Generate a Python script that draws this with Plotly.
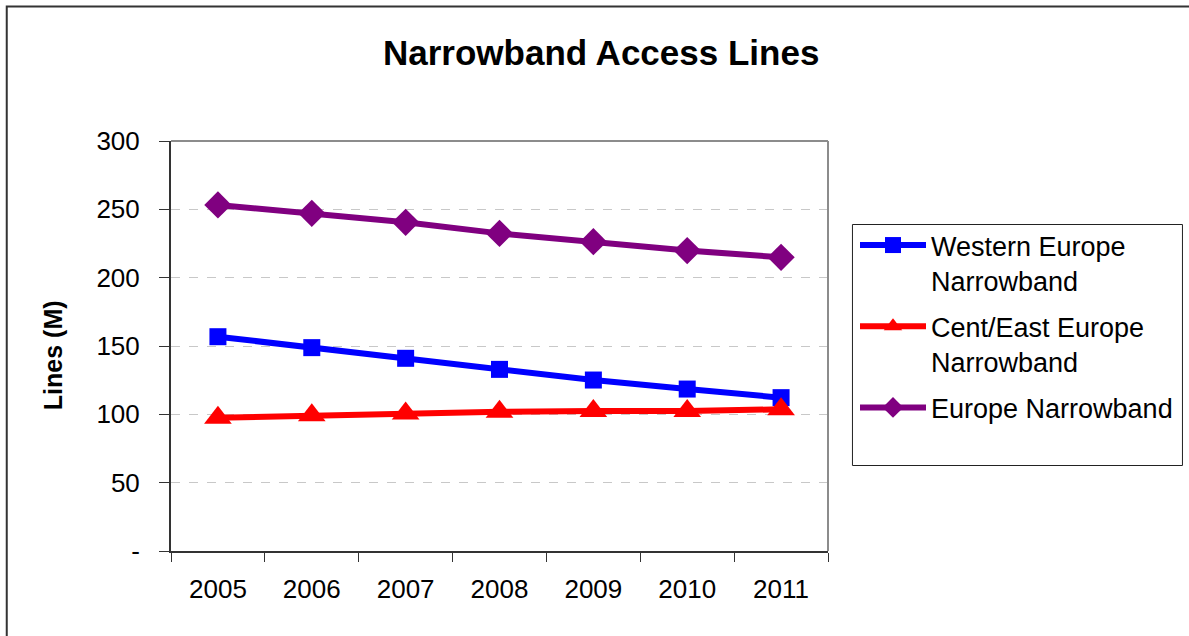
import plotly.graph_objects as go

# Narrowband access lines by region, millions
years = ["2005", "2006", "2007", "2008", "2009", "2010", "2011"]
western_europe = [156.8, 148.8, 141.0, 132.9, 125.1, 118.5, 112.2]
cent_east_europe = [97.5, 99.3, 100.7, 101.9, 102.4, 102.4, 103.7]
europe_total = [253.2, 247.1, 240.5, 232.4, 226.3, 219.8, 214.9]

y_tick_vals = [0, 50, 100, 150, 200, 250, 300]
y_tick_text = ["-", "50", "100", "150", "200", "250", "300"]

FONT = "Liberation Sans, Arial, sans-serif"
W, H = 1189, 636
L, R, T, B = 171, 360, 141, 85
pw, ph = W - L - R, H - T - B


def px_x(x):
    return (x - L) / pw


def px_y(y):
    return (H - B - y) / ph


fig = go.Figure()

series = [
    ("Western Europe<br>Narrowband", western_europe, "#0000FF", "square", 17),
    ("Cent/East Europe<br>Narrowband", cent_east_europe, "#FF0000", "triangle-up", 24),
    ("Europe Narrowband", europe_total, "#800080", "diamond", 21),
]
for i, (name, vals, color, symbol, size) in enumerate(series):
    fig.add_trace(go.Scatter(
        x=years, y=vals, name=name, mode="lines+markers",
        legendgroup=f"g{i}",
        line=dict(color=color, width=6),
        marker=dict(symbol=symbol, size=size, color=color, line=dict(width=0)),
    ))

fig.update_layout(
    width=W, height=H,
    margin=dict(l=L, r=R, t=T, b=B, pad=0),
    paper_bgcolor="white", plot_bgcolor="white",
    font=dict(family=FONT, color="black", size=26),
    showlegend=True,
    legend=dict(
        x=px_x(855), y=px_y(221), xanchor="left", yanchor="top",
        borderwidth=0, bgcolor="rgba(0,0,0,0)",
        font=dict(family=FONT, size=27, color="black"),
        valign="top", itemwidth=66, tracegroupgap=8,
    ),
    xaxis=dict(
        type="category", range=[-0.5, 6.5],
        showline=True, linecolor="#333333", linewidth=2,
        ticks="outside", tickson="boundaries", ticklen=9, tickwidth=1,
        tickcolor="#333333", showgrid=False, zeroline=False,
        tickfont=dict(size=26), ticklabelstandoff=14,
    ),
    yaxis=dict(
        range=[0, 300], tickvals=y_tick_vals, ticktext=y_tick_text,
        showline=True, linecolor="#333333", linewidth=2,
        ticks="outside", ticklen=10, tickwidth=1, tickcolor="#333333",
        showgrid=True, gridcolor="#c8c8c8", gridwidth=1, griddash="dash",
        zeroline=False, tickfont=dict(size=26), ticklabelstandoff=14,
    ),
    annotations=[
        dict(text="<b>Narrowband Access Lines</b>", x=px_x(602), y=px_y(52),
             xref="paper", yref="paper", xanchor="center", yanchor="middle",
             showarrow=False, font=dict(family=FONT, size=35, color="black")),
        dict(text="<b>Lines (M)</b>", x=px_x(53), y=px_y(355),
             xref="paper", yref="paper", xanchor="center", yanchor="middle",
             textangle=-90, showarrow=False,
             font=dict(family=FONT, size=25, color="black")),
    ],
    shapes=[
        # plot-area frame, top and right edges
        dict(type="line", xref="paper", yref="paper", x0=0, x1=1, y0=1, y1=1,
             line=dict(color="#8c8c8c", width=2), layer="above"),
        dict(type="line", xref="paper", yref="paper", x0=1, x1=1, y0=0, y1=1,
             line=dict(color="#8c8c8c", width=2), layer="above"),
        # legend box
        dict(type="rect", xref="paper", yref="paper",
             x0=px_x(853.5), x1=px_x(1184), y0=px_y(465.5), y1=px_y(224.5),
             line=dict(color="#222222", width=1), layer="below"),
        # chart border
        dict(type="rect", xref="paper", yref="paper",
             x0=px_x(6.5), x1=px_x(W + 10), y0=px_y(H + 10), y1=px_y(6.5),
             line=dict(color="#333333", width=2), layer="below"),
    ],
)

fig.write_html("out.html")
